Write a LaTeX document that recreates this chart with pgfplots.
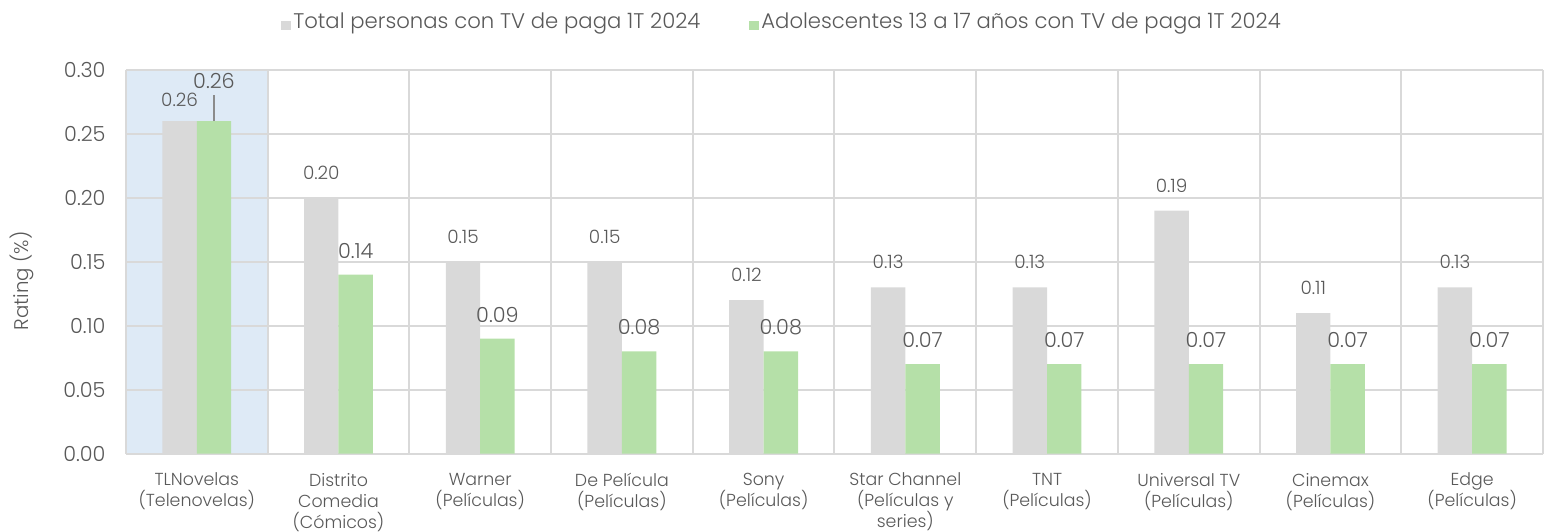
\documentclass[border=0pt]{standalone}
\usepackage{fontspec}
\setmainfont{Poppins}[UprightFont={* Light}]
\usepackage{pgfplots}
\pgfplotsset{compat=1.18}
\usepackage{pgfplotstable}
\definecolor{txt}{HTML}{595959}
\definecolor{grisbar}{HTML}{D9D9D9}
\definecolor{verde}{HTML}{B5E0A8}
\definecolor{azul}{HTML}{DEEAF6}
\definecolor{rejilla}{HTML}{D9D9D9}

\pgfplotsset{
  /pgf/number format/fixed,
  /pgf/number format/fixed zerofill,
  /pgf/number format/precision=2,
  /pgf/number format/assume math mode=true,
}

% x  rating  label offset (pt)
\pgfplotstableread{
x y off
0 0.26 7
1 0.20 9
2 0.15 9
3 0.15 9
4 0.12 9
5 0.13 9
6 0.13 9
7 0.19 9
8 0.11 9
9 0.13 9
}\total

\pgfplotstableread{
x y off
0 0.26 16
1 0.14 8
2 0.09 8
3 0.08 8
4 0.08 8
5 0.07 8
6 0.07 8
7 0.07 8
8 0.07 8
9 0.07 8
}\adol

\begin{document}
\begin{tikzpicture}
\begin{axis}[
  at={(0,0)}, anchor=south west,
  scale only axis,
  width=709pt, height=192pt,
  set layers,
  xmin=-0.5, xmax=9.5,
  ymin=0, ymax=0.30,
  xtick={0,1,2,3,4,5,6,7,8,9},
  xticklabels={
    {TLNovelas\\(Telenovelas)},
    {Distrito\\Comedia\\(Cómicos)},
    {Warner\\(Películas)},
    {De Película\\(Películas)},
    {Sony\\(Películas)},
    {Star Channel\\(Películas y\\series)},
    {TNT\\(Películas)},
    {Universal TV\\(Películas)},
    {Cinemax\\(Películas)},
    {Edge\\(Películas)}},
  minor xtick={-0.5,0.5,1.5,2.5,3.5,4.5,5.5,6.5,7.5,8.5,9.5},
  ytick={0,0.05,0.10,0.15,0.20,0.25,0.30},
  ymajorgrids, xminorgrids,
  major grid style={rejilla, line width=1pt},
  minor grid style={rejilla, line width=1pt},
  axis line style={draw=none},
  major tick length=0pt, minor tick length=0pt,
  tick label style={text=txt},
  yticklabel style={font=\fontsize{10.4}{12}\selectfont, inner sep=0pt, xshift=-10pt},
  xticklabel style={font=\fontsize{8.7}{10.5}\selectfont, align=center, inner sep=0pt, yshift=-9.5pt},
  ylabel={Rating (\%)},
  ylabel style={at={(axis description cs:-0.0733,0.45)}, anchor=center,
    font=\fontsize{9.9}{11}\selectfont, text=txt},
  legend style={at={(0.463,1)}, anchor=center, yshift=24pt,
    draw=none, fill=none, legend columns=2,
    font=\fontsize{10.6}{12}\selectfont, text=txt,
    nodes={inner sep=1pt},
    /tikz/every even column/.append style={column sep=23.5pt}},
  legend image code/.code={\fill[#1,draw=none] (0pt,-4pt) rectangle (5pt,0.5pt);},
]

% highlighted first category
\addplot[fill=azul, draw=none, forget plot, on layer=axis background]
  coordinates {(-0.5,0) (0.5,0) (0.5,0.30) (-0.5,0.30)};

\addplot[ybar, bar width=0.243, bar shift=0pt, fill=grisbar, draw=none,
  nodes near coords,
  visualization depends on={\thisrow{off} \as \off},
  every node near coord/.append style={anchor=south, inner sep=0pt,
    yshift=\off pt, text=txt, font=\fontsize{9.2}{10}\selectfont}]
  table[x expr=\thisrow{x}-0.1215, y=y] {\total};
\addlegendentry{Total personas con TV de paga 1T 2024}

\addplot[ybar, bar width=0.243, bar shift=0pt, fill=verde, draw=none,
  nodes near coords,
  visualization depends on={\thisrow{off} \as \off},
  every node near coord/.append style={anchor=south, inner sep=0pt,
    yshift=\off pt, text=txt, font=\fontsize{10.4}{12}\selectfont}]
  table[x expr=\thisrow{x}+0.1215, y=y] {\adol};
\addlegendentry{Adolescentes 13 a 17 años con TV de paga 1T 2024}

\draw[txt!70, line width=0.6pt] (axis cs:0.1215,0.26) -- ++(0pt,13pt);
\end{axis}
\useasboundingbox (-63pt,-39pt) rectangle (709pt,227pt);
\end{tikzpicture}
\end{document}
